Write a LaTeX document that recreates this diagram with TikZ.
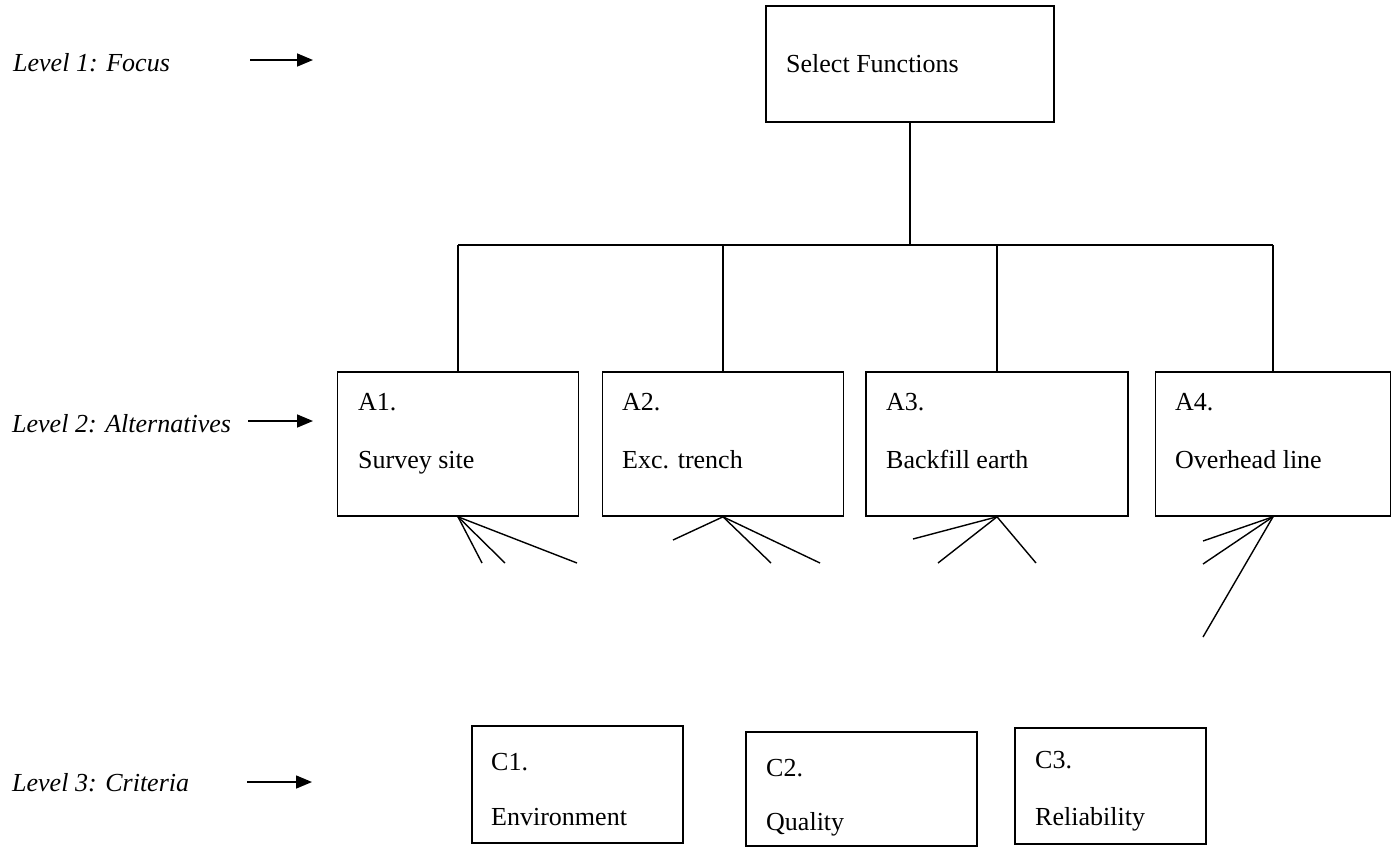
\documentclass[tikz,border=0pt]{standalone}
\usepackage{fontspec}
\setmainfont{Liberation Serif}
\usetikzlibrary{arrows.meta}
\begin{document}
\begin{tikzpicture}[x=1pt,y=-1pt,
  box/.style={draw, line width=1.6pt, inner sep=0pt},
  lbl/.style={anchor=base west, inner sep=0pt, font=\fontsize{26}{30}\selectfont},
  lvl/.style={anchor=base west, inner sep=0pt, font=\fontsize{26}{30}\selectfont\itshape},
  pointer/.style={line width=1.6pt, -{Triangle[length=16pt,width=13pt]}},
  link/.style={line width=1.5pt},
  fan/.style={line width=1.4pt},
]
\useasboundingbox (0,0) rectangle (1397,847);

% level captions and their pointers
\node[lvl] (lv1) at (13,71) {Level 1: Focus};
\node[lvl] (lv2) at (12,432) {Level 2: Alternatives};
\node[lvl] (lv3) at (12,791) {Level 3: Criteria};
\coordinate (p1s) at (250,60);  \coordinate (p1e) at (313,60);
\coordinate (p2s) at (248,421); \coordinate (p2e) at (313,421);
\coordinate (p3s) at (247,782); \coordinate (p3e) at (312,782);
\draw[pointer] (p1s) -- (p1e);
\draw[pointer] (p2s) -- (p2e);
\draw[pointer] (p3s) -- (p3e);

% focus
\node[box, minimum width=288pt, minimum height=116pt] (focus) at (910,64) {};
\node[lbl] (focust) at (786,72) {Select Functions};

% alternatives
\node[box, minimum width=241pt, minimum height=144pt] (a1) at (458,444) {};
\node[box, minimum width=241pt, minimum height=144pt] (a2) at (723,444) {};
\node[box, minimum width=262pt, minimum height=144pt] (a3) at (997,444) {};
\node[box, minimum width=235pt, minimum height=144pt] (a4) at (1273,444) {};
\node[lbl] (a1k) at (358,410) {A1.};
\node[lbl] (a1t) at (358,468) {Survey site};
\node[lbl] (a2k) at (622,410) {A2.};
\node[lbl] (a2t) at (622,468) {Exc. trench};
\node[lbl] (a3k) at (886,410) {A3.};
\node[lbl] (a3t) at (886,468) {Backfill earth};
\node[lbl] (a4k) at (1175,410) {A4.};
\node[lbl] (a4t) at (1175,468) {Overhead line};

% criteria
\node[box, minimum width=211pt, minimum height=117pt] (c1) at (577.5,784.5) {};
\node[box, minimum width=231pt, minimum height=114pt] (c2) at (861.5,789) {};
\node[box, minimum width=191pt, minimum height=116pt] (c3) at (1110.5,786) {};
\node[lbl] (c1k) at (491,770) {C1.};
\node[lbl] (c1t) at (491,825) {Environment};
\node[lbl] (c2k) at (766,776) {C2.};
\node[lbl] (c2t) at (766,830) {Quality};
\node[lbl] (c3k) at (1035,768) {C3.};
\node[lbl] (c3t) at (1035,825) {Reliability};

% hierarchy links
\coordinate (bus) at (910,245);
\draw[link] (focus.south) -- (focus.south |- bus);
\draw[link] (a1.north |- bus) -- (a4.north |- bus);
\draw[link] (a1.north |- bus) -- (a1.north);
\draw[link] (a2.north |- bus) -- (a2.north);
\draw[link] (a3.north |- bus) -- (a3.north);
\draw[link] (a4.north |- bus) -- (a4.north);

% loose links below the alternatives
\coordinate (f1a) at (482,563); \coordinate (f1b) at (505,563); \coordinate (f1c) at (577,563);
\draw[fan] (a1.south) -- (f1a);
\draw[fan] (a1.south) -- (f1b);
\draw[fan] (a1.south) -- (f1c);
\coordinate (f2a) at (673,540); \coordinate (f2b) at (771,563); \coordinate (f2c) at (820,563);
\draw[fan] (a2.south) -- (f2a);
\draw[fan] (a2.south) -- (f2b);
\draw[fan] (a2.south) -- (f2c);
\coordinate (f3a) at (913,539); \coordinate (f3b) at (938,563); \coordinate (f3c) at (1036,563);
\draw[fan] (a3.south) -- (f3a);
\draw[fan] (a3.south) -- (f3b);
\draw[fan] (a3.south) -- (f3c);
\coordinate (f4a) at (1203,541); \coordinate (f4b) at (1203,564); \coordinate (f4c) at (1203,637);
\draw[fan] (a4.south) -- (f4a);
\draw[fan] (a4.south) -- (f4b);
\draw[fan] (a4.south) -- (f4c);
\end{tikzpicture}
\end{document}
